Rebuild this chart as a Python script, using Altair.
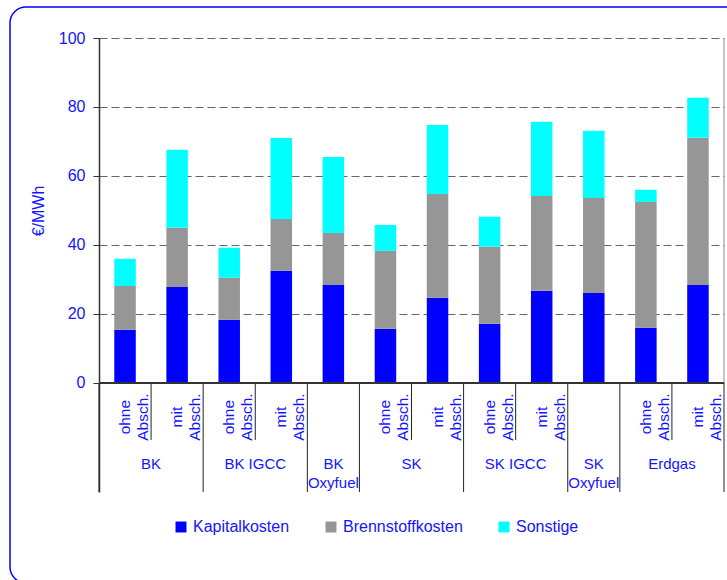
import altair as alt
import pandas as pd

# ---- data ----
bar_labels = ["ohne\nAbsch.", "mit\nAbsch.", "ohne\nAbsch.", "mit\nAbsch.", "",
              "ohne\nAbsch.", "mit\nAbsch.", "ohne\nAbsch.", "mit\nAbsch.", "",
              "ohne\nAbsch.", "mit\nAbsch."]
group_names = ["BK", "BK IGCC", "BK\nOxyfuel", "SK", "SK IGCC", "SK\nOxyfuel", "Erdgas"]
group_sizes = [2, 2, 1, 2, 2, 1, 2]

kapital = [15.4, 27.8, 18.3, 32.5, 28.4, 15.7, 24.7, 17.2, 26.7, 26.1, 16.0, 28.4]
brennstoff = [12.7, 17.2, 12.2, 15.0, 15.1, 22.6, 30.1, 22.3, 27.5, 27.5, 36.5, 42.7]
sonstige = [7.9, 22.6, 8.7, 23.5, 22.0, 7.5, 20.0, 8.7, 21.5, 19.5, 3.5, 11.6]

series = ["Kapitalkosten", "Brennstoffkosten", "Sonstige"]
colors = ["#0000ff", "#969696", "#00ffff"]
y_ticks = [0, 20, 40, 60, 80, 100]

FONT = "Liberation Sans"
BLUE = "#1414ff"

# table region below the value axis (in y-scale units)
Y_MIN = -31.6
SUB_LABEL_Y = -9.9
INNER_SEP_Y = -16.5
GROUP_LABEL_Y = -24.8

n = len(kapital)

rows = []
for i, vals in enumerate(zip(kapital, brennstoff, sonstige)):
    for j, (name, v) in enumerate(zip(series, vals)):
        rows.append({"pos": i + 0.5, "series": name, "value": v, "order": j})
bars_df = pd.DataFrame(rows)

sub_df = pd.DataFrame([{"pos": i + 0.5, "label": lab, "y": SUB_LABEL_Y}
                       for i, lab in enumerate(bar_labels) if lab])

grp_rows, sep_rows = [], []
start = 0
sep_rows.append({"x": 0, "y": 0, "y2": Y_MIN})
for name, size in zip(group_names, group_sizes):
    grp_rows.append({"pos": start + size / 2, "label": name, "y": GROUP_LABEL_Y})
    for k in range(1, size):
        sep_rows.append({"x": start + k, "y": 0, "y2": INNER_SEP_Y})
    start += size
    sep_rows.append({"x": start, "y": 0, "y2": Y_MIN})
grp_df = pd.DataFrame(grp_rows)
sep_df = pd.DataFrame(sep_rows)

x_scale = alt.Scale(domain=[0, n], nice=False, zero=False, padding=0)
y_scale = alt.Scale(domain=[Y_MIN, 100], nice=False, zero=False, padding=0)

bars = alt.Chart(bars_df).mark_bar(width=21.5).encode(
    x=alt.X("pos:Q", scale=x_scale, axis=None),
    y=alt.Y("value:Q", scale=y_scale, stack="zero",
            axis=alt.Axis(values=y_ticks, title="€/MWh", grid=True,
                          gridDash=[8, 4], gridColor="#666666",
                          domainColor="#333333", domainWidth=1.5,
                          tickColor="#333333", tickSize=6, tickWidth=1,
                          labelColor=BLUE, labelFont=FONT, labelFontSize=16,
                          labelPadding=8, titleColor=BLUE, titleFont=FONT,
                          titleFontSize=16, titleFontWeight="normal",
                          titlePadding=12, titleY=172.5)),
    color=alt.Color("series:N", scale=alt.Scale(domain=series, range=colors),
                    legend=alt.Legend(orient="none", legendX=74, legendY=481,
                                      direction="horizontal", title=None,
                                      symbolType="square", symbolSize=120,
                                      symbolStrokeWidth=0, labelFont=FONT,
                                      labelFontSize=16, labelColor=BLUE,
                                      columnPadding=33, labelOffset=4,
                                      padding=0)),
    order=alt.Order("order:Q"),
)

xaxis_line = alt.Chart(alt.Data(values=[{"x": 0, "x2": n, "y": 0}])).mark_rule(
    color="#333333", strokeWidth=2).encode(
    x=alt.X("x:Q", scale=x_scale), x2="x2:Q", y=alt.Y("y:Q", scale=y_scale))

right_border = alt.Chart(alt.Data(values=[{"x": n, "y": 0, "y2": 100}])).mark_rule(
    color="#8a8a8a", strokeWidth=1).encode(
    x=alt.X("x:Q", scale=x_scale), y=alt.Y("y:Q", scale=y_scale), y2="y2:Q")

separators = alt.Chart(sep_df).mark_rule(color="#222222", strokeWidth=1).encode(
    x=alt.X("x:Q", scale=x_scale), y=alt.Y("y:Q", scale=y_scale), y2="y2:Q")

sub_labels = alt.Chart(sub_df).mark_text(
    angle=270, align="center", baseline="middle", lineBreak="\n",
    lineHeight=18, fontSize=15.5, font=FONT, color=BLUE).encode(
    x=alt.X("pos:Q", scale=x_scale), y=alt.Y("y:Q", scale=y_scale),
    text="label:N")

grp_labels = alt.Chart(grp_df).mark_text(
    align="center", baseline="alphabetic", lineBreak="\n",
    lineHeight=19, fontSize=15, font=FONT, color=BLUE).encode(
    x=alt.X("pos:Q", scale=x_scale), y=alt.Y("y:Q", scale=y_scale),
    text="label:N")

frame = alt.Chart(alt.Data(values=[{}])).mark_rect(
    fill="white", fillOpacity=0, stroke="#0000ff", strokeWidth=1.5,
    cornerRadius=16).encode(
    x=alt.value(-89), x2=alt.value(645), y=alt.value(-31), y2=alt.value(545))

chart = alt.layer(
    frame, bars, right_border, separators, xaxis_line, sub_labels, grp_labels
).properties(
    width=625, height=454,
    autosize=alt.AutoSizeParams(type="none"),
    padding={"left": 99, "top": 38, "right": 3, "bottom": 88},
    background="white",
).configure_view(stroke=None)

chart.save("out.html", embed_options={"renderer": "svg", "actions": False})
